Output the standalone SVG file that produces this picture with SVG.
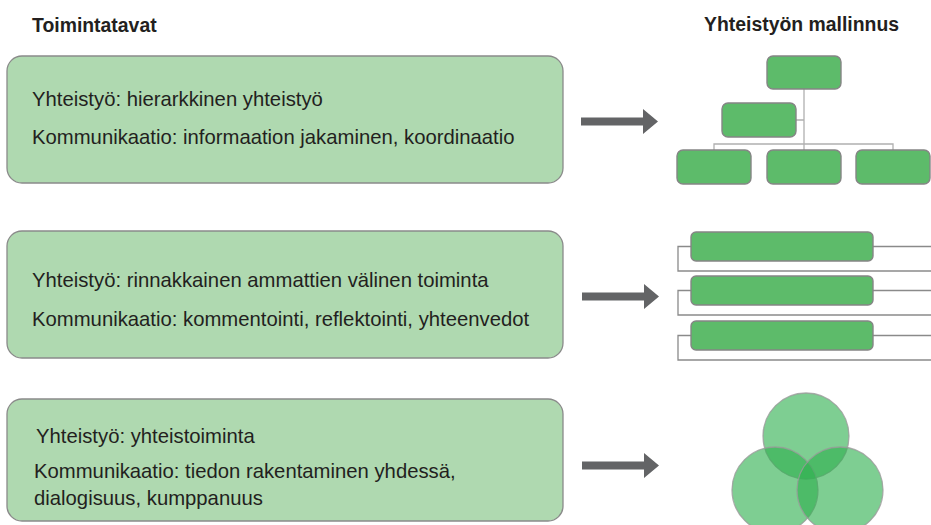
<svg xmlns="http://www.w3.org/2000/svg" width="931" height="525" viewBox="0 0 931 525">
  <defs>
    <style>
      .title { font-family: "Liberation Sans", Arial, sans-serif; font-weight: bold; font-size: 19.4px; fill: #231f20; }
      .txt { font-family: "Liberation Sans", Arial, sans-serif; font-size: 20.3px; fill: #231f20; }
      .box { fill: #afd9b0; stroke: #8a8a8a; stroke-width: 1.3; }
      .gbox { fill: #5dbb6a; stroke: #858585; stroke-width: 1.4; }
      .thin { fill: none; stroke: #b0b0b0; stroke-width: 1.3; }
      .brk { fill: none; stroke: #8a8a8a; stroke-width: 1.3; }
      .circ { fill: #2eb04f; fill-opacity: 0.62; stroke: #9a9a9a; stroke-opacity: 0.8; stroke-width: 1.3; }
      .arrow { fill: #636466; }
    </style>
    <path id="arr" d="M0,-4 H62 V-12.5 L77,0 L62,12.5 V4 H0 Z"/>
  </defs>
  <rect width="931" height="525" fill="#ffffff"/>

  <g id="title-left"><text class="title" x="32" y="32">Toimintatavat</text></g>
  <g id="title-right"><text class="title" x="704" y="31">Yhteistyön mallinnus</text></g>

  <g id="box1">
    <rect class="box" x="7" y="56" width="556" height="127" rx="15"/>
    <text class="txt" x="32" y="106">Yhteistyö: hierarkkinen yhteistyö</text>
    <text class="txt" x="32" y="144">Kommunikaatio: informaation jakaminen, koordinaatio</text>
  </g>

  <g id="box2">
    <rect class="box" x="7" y="231" width="556" height="127" rx="15"/>
    <text class="txt" x="32" y="287">Yhteistyö: rinnakkainen ammattien välinen toiminta</text>
    <text class="txt" x="32" y="326">Kommunikaatio: kommentointi, reflektointi, yhteenvedot</text>
  </g>

  <g id="box3">
    <rect class="box" x="7" y="399" width="556" height="122" rx="15"/>
    <text class="txt" x="36" y="443">Yhteistyö: yhteistoiminta</text>
    <text class="txt" x="34" y="478">Kommunikaatio: tiedon rakentaminen yhdessä,</text>
    <text class="txt" x="34" y="505">dialogisuus, kumppanuus</text>
  </g>

  <g id="connectors">
    <use href="#arr" class="arrow" transform="translate(581,121.5)"/>
    <use href="#arr" class="arrow" transform="translate(582,296.5)"/>
    <use href="#arr" class="arrow" transform="translate(582,465.5)"/>
  </g>

  <g id="model-hierarchy">
    <path class="thin" d="M804,89 V150 M796,120 H804 M714,150 V144 H893 V150"/>
    <rect class="gbox" x="767" y="56" width="74" height="33" rx="6"/>
    <rect class="gbox" x="722" y="103" width="74" height="34" rx="6"/>
    <rect class="gbox" x="677" y="150" width="74" height="34" rx="6"/>
    <rect class="gbox" x="767" y="150" width="74" height="34" rx="6"/>
    <rect class="gbox" x="856" y="150" width="74" height="34" rx="6"/>
  </g>

  <g id="model-parallel">
    <path class="brk" d="M691,246.5 H678 V271 H931 M873,246.5 H931"/>
    <path class="brk" d="M691,290.5 H678 V315 H931 M873,290.5 H931"/>
    <path class="brk" d="M691,335.5 H678 V360 H931 M873,335.5 H931"/>
    <rect class="gbox" x="691" y="232" width="182" height="29" rx="5"/>
    <rect class="gbox" x="691" y="276" width="182" height="29" rx="5"/>
    <rect class="gbox" x="691" y="321" width="182" height="29" rx="5"/>
  </g>

  <g id="model-venn">
    <circle class="circ" cx="806" cy="436" r="43"/>
    <circle class="circ" cx="775" cy="490" r="43"/>
    <circle class="circ" cx="840" cy="490" r="43"/>
  </g>
</svg>
